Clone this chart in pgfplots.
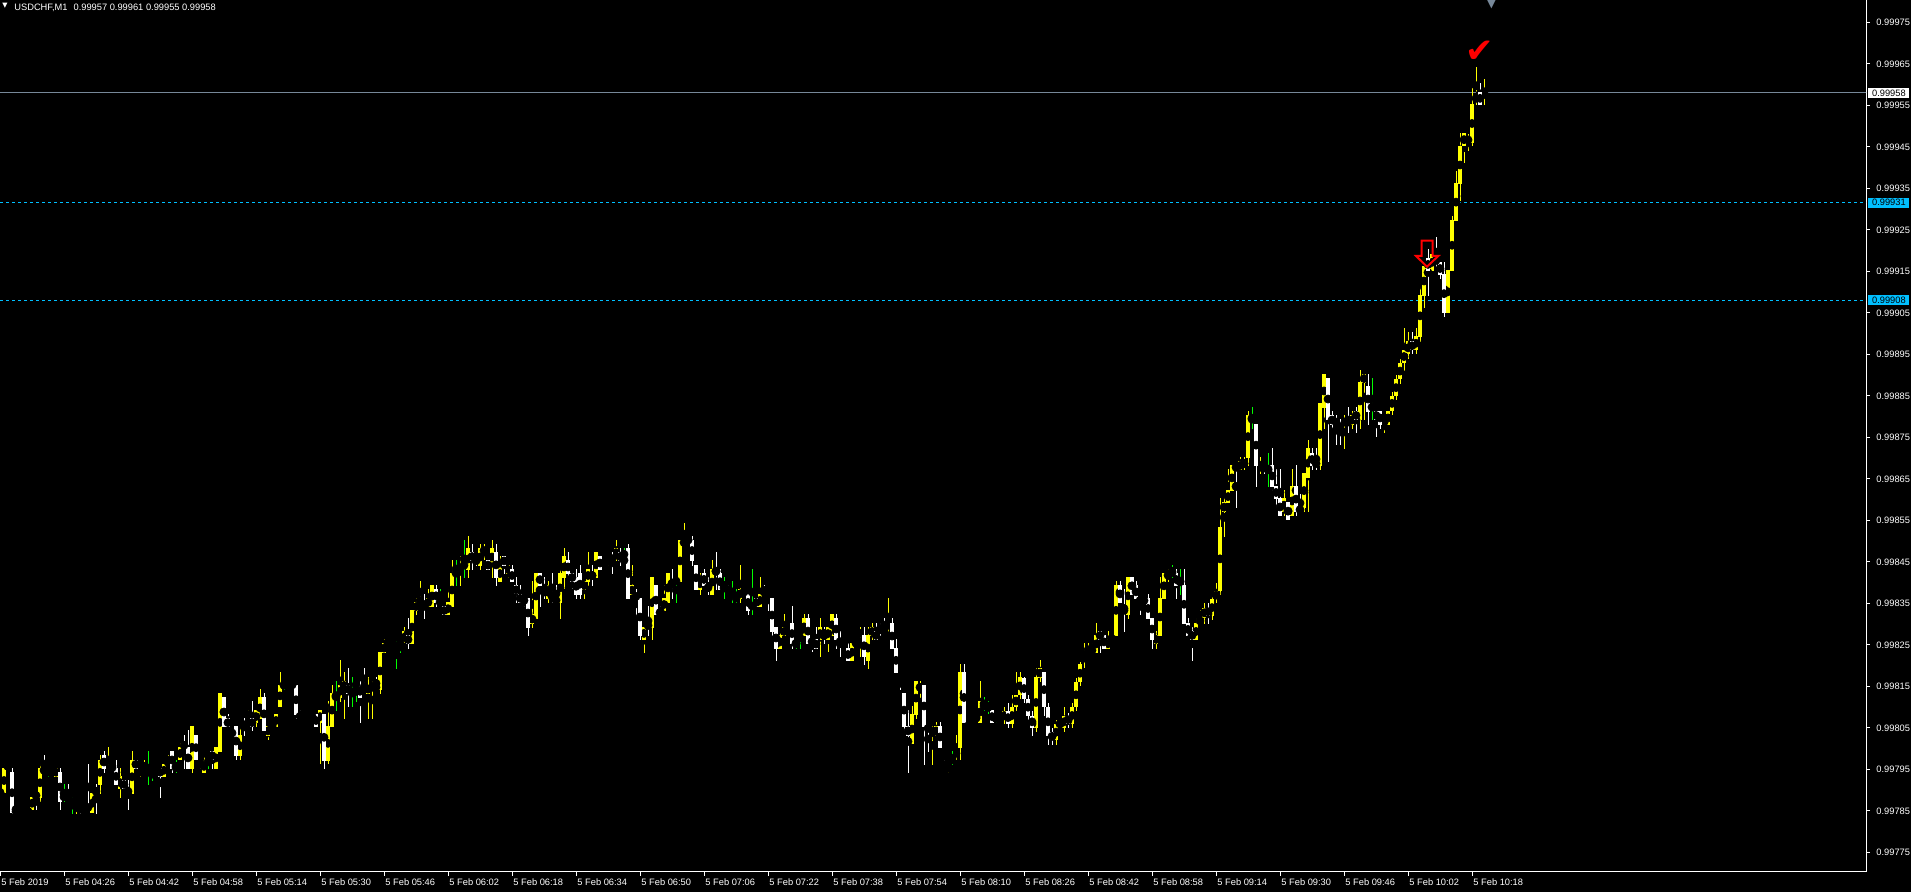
\documentclass[border=0pt]{standalone}
\usepackage{pgfplots}
\pgfplotsset{compat=1.18}
\usepackage{pgfplotstable}
\usepackage{fontspec}
\setmainfont{Liberation Sans}
\newfontfamily\dejavu{DejaVu Sans}
\definecolor{mtyellow}{RGB}{255,255,0}
\definecolor{mtgreen}{RGB}{0,255,0}
\definecolor{mtblue}{RGB}{0,191,255}
\definecolor{mtgray}{RGB}{119,136,153}
% prices in units of 0.00001 above 0.99 (e.g. 958 = 0.99958); i = minutes after 04:10
\pgfplotstableread{
i o h l c
0 789.3 790.0 789.0 789.3
1 789.3 796.3 789.3 795.4
2 796.3 796.3 795.2 795.2
3 794.4 795.4 784.4 784.4
4 785.4 785.4 784.4 785.4
5 784.4 786.4 784.4 785.4
6 785.4 785.4 785.4 785.4
7 784.4 785.4 784.4 785.4
8 785.3 788.4 785.3 788.4
9 789.3 789.3 785.3 788.2
10 788.2 796.3 787.2 795.4
11 795.4 798.4 794.2 794.2
12 795.4 795.4 793.3 795.4
13 794.4 795.4 794.2 794.4
14 793.3 795.4 793.3 795.4
15 794.4 795.4 785.3 787.2
16 788.4 791.4 787.2 788.4
17 788.4 791.4 787.2 787.2
18 787.3 788.4 784.4 787.3
19 786.3 787.3 784.4 787.3
20 786.4 786.4 784.4 785.3
21 785.4 785.4 785.4 785.4
22 786.4 796.3 785.3 785.3
23 784.4 789.3 784.4 789.3
24 790.3 791.4 784.4 789.2
25 791.3 798.4 789.2 797.3
26 798.4 799.4 794.2 795.2
27 794.2 800.4 794.2 795.4
28 795.4 796.3 795.4 795.4
29 795.4 797.3 791.3 791.3
30 790.3 795.4 788.2 793.4
31 792.5 792.5 789.2 790.3
32 790.3 792.5 785.3 789.2
33 789.2 799.4 789.2 797.3
34 797.3 797.3 795.2 795.2
35 794.2 795.4 793.3 795.4
36 794.2 797.3 794.2 795.4
37 794.4 799.4 791.3 794.4
38 795.4 795.4 792.3 795.4
39 796.3 796.3 795.2 795.2
40 795.4 795.4 788.2 793.3
41 793.3 797.3 793.3 796.3
42 796.2 798.4 796.2 797.3
43 799.4 799.4 794.2 795.2
44 795.4 797.3 794.2 795.4
45 797.3 801.4 797.3 800.4
46 801.4 803.3 795.2 800.3
47 800.4 804.5 795.2 795.2
48 795.2 805.5 794.2 805.5
49 803.3 803.3 797.2 797.2
50 796.2 797.3 795.2 797.3
51 794.2 798.4 794.2 797.3
52 798.4 798.4 795.2 798.4
53 799.5 799.5 795.2 797.2
54 795.2 800.4 795.2 800.4
55 799.3 813.4 799.3 813.4
56 812.5 812.5 805.2 805.2
57 807.4 808.4 805.2 805.2
58 804.5 804.5 801.2 803.1
59 805.5 805.5 797.3 798.2
60 798.2 805.5 797.3 803.3
61 806.4 807.4 803.1 805.2
62 807.2 809.3 807.2 808.4
63 807.4 811.5 804.3 805.2
64 806.2 809.3 805.2 809.3
65 807.2 814.4 807.2 812.5
66 812.5 813.4 804.3 804.3
67 803.1 805.5 802.1 805.5
68 805.5 805.5 805.5 805.5
69 805.2 808.4 805.2 808.4
70 810.1 818.5 810.1 815.4
71 815.4 816.4 814.2 815.4
72 815.4 816.4 815.4 815.4
73 815.4 815.4 815.4 815.4
74 815.4 815.4 807.2 808.2
75 808.4 809.3 807.2 807.2
76 807.4 807.4 806.2 806.2
77 807.2 808.4 807.2 808.4
78 808.4 808.4 807.2 807.2
79 808.4 808.4 805.2 805.2
80 806.2 809.3 796.2 809.3
81 808.4 808.4 795.2 797.1
82 797.1 811.5 796.2 805.5
83 805.2 815.4 805.2 813.4
84 812.5 816.4 809.2 812.5
85 812.3 821.4 811.3 815.4
86 814.2 818.5 807.2 816.3
87 815.4 819.5 810.1 813.3
88 813.4 817.3 810.1 813.4
89 815.4 816.3 811.3 815.4
90 815.4 816.3 806.3 812.3
91 815.4 819.5 814.2 814.2
92 813.3 817.3 807.2 815.4
93 814.2 816.3 807.2 815.4
94 815.4 817.3 814.2 814.2
95 814.2 823.3 813.3 823.3
96 823.1 826.5 823.1 825.4
97 825.4 826.2 825.4 825.4
98 825.4 825.4 825.4 825.4
99 824.3 826.0 819.3 824.3
100 825.4 826.0 823.0 825.4
101 825.4 829.4 825.4 828.3
102 827.4 831.5 824.1 825.2
103 825.2 833.4 825.2 833.4
104 833.2 836.3 832.2 835.3
105 835.1 840.4 835.1 836.3
106 835.3 837.3 831.3 834.2
107 834.2 838.5 834.2 836.3
108 834.2 839.4 834.2 839.4
109 838.5 839.4 834.2 835.2
110 835.3 838.5 835.3 835.3
111 834.4 834.4 832.2 832.2
112 832.2 838.5 832.2 835.3
113 834.2 845.4 834.2 842.3
114 843.3 845.4 839.2 843.3
115 842.2 846.4 839.2 843.3
116 844.2 850.3 841.2 844.2
117 843.1 851.2 841.2 848.3
118 847.4 849.3 843.1 845.2
119 846.4 846.4 844.1 845.2
120 844.1 849.3 843.1 848.3
121 847.2 849.3 845.4 848.3
122 845.4 845.4 843.1 843.1
123 844.1 850.3 841.2 848.3
124 847.4 849.3 839.3 841.2
125 840.2 846.4 840.2 844.2
126 846.4 846.4 842.2 844.1
127 842.2 844.2 841.2 844.2
128 843.3 844.2 840.2 840.2
129 839.4 841.3 835.2 837.2
130 837.3 839.4 835.2 835.2
131 836.3 836.3 834.2 835.2
132 836.3 836.3 827.2 829.1
133 830.1 840.4 829.1 832.4
134 831.3 842.3 831.3 842.3
135 842.3 842.3 834.2 839.2
136 838.5 841.3 836.1 837.0
137 836.1 840.4 835.2 839.4
138 837.3 842.3 835.2 836.1
139 836.3 839.4 835.2 835.2
140 835.2 843.3 831.3 842.3
141 841.2 848.3 838.5 846.4
142 845.4 847.4 841.2 842.2
143 842.3 842.3 838.5 840.2
144 841.3 843.3 836.1 837.0
145 842.3 844.2 836.1 837.0
146 838.2 840.4 836.1 840.4
147 840.2 847.4 839.3 843.3
148 842.3 844.2 839.3 841.2
149 841.2 847.4 841.2 847.4
150 846.4 846.4 843.1 843.1
151 842.2 843.3 842.2 843.3
152 842.2 844.2 842.2 843.3
153 846.4 847.4 842.2 845.2
154 846.2 850.3 845.2 848.3
155 847.4 848.3 844.1 845.2
156 845.4 848.3 845.4 845.4
157 848.3 849.3 836.1 836.1
158 837.0 844.2 837.0 839.4
159 837.3 838.5 831.3 836.1
160 836.3 836.3 826.2 827.2
161 826.3 829.3 823.0 829.3
162 830.3 834.4 827.2 829.1
163 829.1 841.3 826.2 841.3
164 839.4 839.4 832.2 832.2
165 833.4 834.4 832.2 832.2
166 833.2 839.4 833.2 836.3
167 835.2 842.3 835.2 842.3
168 840.4 843.3 836.1 839.3
169 840.4 841.3 835.2 840.4
170 840.2 850.3 840.2 850.3
171 849.1 854.3 849.1 850.3
172 850.3 851.3 849.3 850.3
173 850.3 851.2 844.1 845.2
174 844.2 844.2 838.2 838.2
175 838.2 842.3 837.0 841.3
176 842.3 843.3 839.3 839.3
177 839.4 841.3 837.0 838.2
178 837.0 845.4 837.0 843.3
179 843.3 847.4 838.2 842.2
180 842.3 843.3 838.2 838.2
181 839.4 841.3 836.1 839.4
182 838.5 839.4 837.3 837.3
183 837.3 840.4 835.2 837.3
184 836.3 838.5 835.2 836.3
185 836.1 844.2 835.2 838.5
186 838.5 838.5 837.0 837.0
187 837.3 837.3 832.2 833.2
188 834.4 843.3 832.2 834.4
189 836.3 836.3 834.2 834.2
190 834.2 841.3 834.2 837.3
191 838.5 839.4 837.0 837.0
192 838.5 838.5 833.2 837.0
193 836.3 836.3 827.2 828.1
194 829.3 829.3 821.2 824.1
195 824.1 828.3 824.1 827.4
196 827.2 832.4 827.2 829.3
197 828.1 829.3 827.2 829.3
198 830.3 834.4 824.1 825.2
199 825.4 826.4 824.1 825.4
200 828.3 829.3 824.1 828.3
201 827.2 832.5 827.2 831.5
202 831.5 832.5 825.2 825.2
203 826.4 826.4 823.2 825.2
204 826.4 829.3 824.0 824.0
205 826.2 831.5 822.2 829.3
206 828.4 829.3 825.2 827.2
207 826.2 829.3 823.2 829.3
208 827.2 832.5 827.2 832.5
209 831.5 832.5 824.0 826.2
210 826.4 828.4 822.2 825.2
211 825.4 825.4 825.4 825.4
212 824.3 825.4 821.1 821.1
213 821.1 825.4 821.1 825.4
214 825.4 826.4 825.4 825.4
215 827.2 829.3 822.2 828.4
216 827.4 829.3 820.2 822.2
217 821.1 829.3 819.2 827.4
218 827.2 830.3 826.2 829.3
219 828.4 830.3 826.2 826.2
220 829.3 830.3 827.2 828.1
221 829.3 831.5 828.1 828.1
222 829.2 836.3 827.2 830.3
223 830.3 831.5 824.0 824.0
224 824.3 826.4 818.3 818.3
225 817.3 817.3 814.2 816.1
226 813.4 813.4 804.3 805.2
227 805.5 809.3 794.2 803.1
228 801.1 810.3 801.1 808.4
229 808.1 816.3 807.2 816.3
230 814.2 816.3 812.3 815.4
231 815.4 815.4 796.1 805.2
232 805.5 805.5 799.2 804.3
233 803.1 805.5 796.1 804.5
234 803.1 806.4 803.1 805.5
235 805.5 806.4 800.2 800.2
236 796.3 797.3 795.1 795.1
237 795.1 796.3 794.2 796.3
238 797.3 799.4 796.1 797.3
239 798.3 803.3 797.3 799.5
240 800.2 820.4 797.3 818.5
241 818.5 820.4 806.2 806.2
242 805.5 806.4 804.3 805.5
243 806.4 806.4 806.4 806.4
244 807.4 807.4 807.4 807.4
245 806.2 816.3 806.2 811.5
246 810.3 812.5 809.2 810.3
247 810.3 811.5 808.4 810.3
248 809.3 809.3 806.2 806.2
249 807.4 808.4 806.2 807.4
250 807.6 808.4 806.4 807.6
251 807.0 810.0 806.0 809.0
252 809.0 811.0 805.0 806.0
253 806.0 813.0 805.0 810.0
254 810.0 818.5 809.0 813.0
255 813.0 818.5 812.0 817.3
256 817.0 817.3 811.0 812.0
257 812.0 813.0 806.0 808.0
258 808.0 809.0 803.0 805.0
259 805.0 819.5 804.0 817.3
260 817.0 821.4 816.0 819.5
261 818.5 818.5 808.0 810.0
262 810.0 811.0 801.0 803.0
263 804.0 805.0 801.0 802.0
264 802.0 807.0 801.0 806.0
265 806.0 806.5 805.5 806.0
266 805.0 810.0 804.0 808.0
267 808.0 808.5 805.0 806.0
268 806.0 811.0 805.0 810.0
269 810.0 817.0 809.0 816.0
270 816.0 821.0 815.0 820.4
271 821.2 825.5 819.5 822.4
272 822.1 825.5 822.1 823.3
273 823.1 825.5 823.1 824.3
274 823.1 830.3 823.1 827.4
275 828.4 828.4 823.1 826.2
276 827.4 827.4 824.1 824.1
277 824.1 828.4 824.1 826.5
278 826.5 826.5 825.3 826.5
279 827.2 840.4 827.2 839.5
280 839.5 840.4 835.1 835.1
281 834.4 838.5 828.2 833.2
282 832.3 841.4 831.3 841.4
283 841.4 841.4 837.1 837.1
284 839.5 840.4 836.1 836.1
285 836.3 836.3 832.3 835.1
286 836.3 836.3 835.1 835.1
287 836.3 837.3 831.3 831.3
288 831.5 831.5 824.1 826.2
289 825.3 828.4 824.1 827.4
290 827.2 841.4 827.2 836.3
291 836.1 842.4 836.1 842.4
292 841.2 843.3 840.2 842.4
293 842.4 844.3 841.2 842.4
294 842.4 843.3 836.1 839.2
295 840.4 843.3 837.1 840.4
296 839.5 843.3 830.1 830.1
297 830.3 831.5 827.2 827.2
298 828.4 829.4 821.2 826.2
299 826.2 831.5 826.2 830.3
300 830.1 833.4 830.1 831.5
301 831.5 835.0 830.0 834.0
302 834.0 835.0 830.0 832.0
303 832.0 837.0 831.0 836.0
304 836.0 840.0 835.0 838.0
305 838.0 860.4 837.0 853.5
306 857.0 860.4 851.1 859.4
307 859.2 867.4 859.2 862.3
308 862.1 868.4 862.1 868.4
309 868.4 868.4 858.0 867.2
310 867.2 870.3 867.2 869.3
311 868.1 870.3 867.2 869.3
312 870.0 881.4 868.1 880.4
313 879.4 882.3 877.0 879.4
314 878.2 878.2 863.1 868.1
315 867.2 870.3 866.2 868.4
316 869.3 869.3 866.2 868.1
317 867.4 871.3 863.1 867.4
318 868.4 872.4 862.1 863.1
319 863.3 867.4 858.0 860.2
320 860.4 867.4 856.1 856.1
321 857.0 862.3 856.1 860.4
322 859.4 859.4 855.1 855.1
323 856.1 867.4 856.1 863.3
324 863.3 868.4 856.1 857.0
325 858.2 861.4 857.0 857.0
326 858.0 866.4 857.0 866.4
327 865.2 874.4 857.0 872.4
328 871.3 872.4 867.2 868.1
329 869.3 872.4 867.2 868.1
330 868.1 883.3 867.2 883.3
331 882.1 890.3 877.0 890.3
332 889.3 889.3 869.1 879.2
333 880.4 881.4 877.0 878.0
334 879.4 880.4 873.2 878.0
335 878.2 879.4 873.2 877.0
336 878.0 880.4 872.2 879.4
337 879.4 882.3 876.1 878.0
338 878.0 881.4 877.0 880.4
339 881.4 882.3 876.1 879.2
340 879.2 891.3 877.0 888.4
341 888.1 890.3 879.2 890.3
342 887.4 890.3 878.0 881.1
343 882.3 889.3 879.2 882.3
344 881.4 881.4 875.1 879.2
345 881.4 881.4 877.0 878.0
346 878.0 879.4 876.1 879.4
347 878.0 881.4 878.0 881.4
348 881.4 886.0 880.5 885.0
349 885.0 890.0 884.0 889.0
350 889.0 894.0 888.0 893.0
351 893.0 901.3 891.0 896.0
352 895.0 900.5 894.0 898.2
353 898.2 900.5 895.0 896.0
354 896.0 901.3 895.0 899.4
355 899.3 911.3 898.1 909.3
356 909.1 916.3 906.3 916.3
357 918.2 920.4 909.1 915.2
358 915.2 919.5 915.0 919.2
359 918.2 923.3 916.0 917.1
360 917.3 917.3 913.2 914.1
361 914.4 917.3 904.1 904.9
362 904.9 915.3 904.9 915.3
363 915.2 928.4 915.2 927.4
364 927.1 939.2 927.1 936.3
365 936.1 948.4 932.0 945.2
366 945.1 948.4 941.2 948.4
367 946.0 948.0 944.1 947.4
368 946.0 959.2 945.1 955.3
369 956.1 964.3 955.2 957.3
370 958.2 960.4 955.2 955.2
371 957.1 961.4 955.2 958.2
}\candles
\pgfplotsset{
  wick/.style={only marks, mark=none, forget plot, error bars/.cd, y dir=both, y explicit, error mark=none, error bar style={draw=#1, line width=0.5pt, line cap=butt, solid}},
  body/.style={only marks, mark=none, forget plot, error bars/.cd, y dir=both, y explicit, error mark=none, error bar style={draw=#1, line width=1.7pt, line cap=butt, solid}},
}
\newcommand{\tl}{\fontsize{4.65}{5.5}\selectfont}
\begin{document}
\begin{tikzpicture}[x=0.5pt,y=0.5pt]
\fill[black] (0,0) rectangle (1911,892);
\path[use as bounding box] (0,0) rectangle (1911,892);
\begin{axis}[
  at={(0pt,10pt)}, anchor=south west,
  scale only axis, width=933pt, height=436pt,
  xmin=0, xmax=466.5, ymin=770.3, ymax=980.4,
  axis x line*=bottom, axis y line*=right,
  axis line style={draw=white, line width=0.5pt, -},
  tick align=outside, major tick length=2pt,
  tick style={draw=white, line width=0.5pt},
  xtick={0,16,...,368},
  xticklabels={5 Feb 2019,5 Feb 04:26,5 Feb 04:42,5 Feb 04:58,5 Feb 05:14,5 Feb 05:30,5 Feb 05:46,5 Feb 06:02,5 Feb 06:18,5 Feb 06:34,5 Feb 06:50,5 Feb 07:06,5 Feb 07:22,5 Feb 07:38,5 Feb 07:54,5 Feb 08:10,5 Feb 08:26,5 Feb 08:42,5 Feb 08:58,5 Feb 09:14,5 Feb 09:30,5 Feb 09:46,5 Feb 10:02,5 Feb 10:18},
  ytick={775,785,...,975},
  yticklabels={0.99775,0.99785,0.99795,0.99805,0.99815,0.99825,0.99835,0.99845,0.99855,0.99865,0.99875,0.99885,0.99895,0.99905,0.99915,0.99925,0.99935,0.99945,0.99955,0.99965,0.99975},
  xticklabel style={anchor=base west, inner sep=0pt, xshift=0.5pt, yshift=-5pt, text=white, font=\tl},
  yticklabel style={anchor=west, inner sep=0pt, xshift=3pt, text=white, font=\tl},
  clip mode=individual,
  unbounded coords=discard,
]
% reference lines
\addplot[mtgray, line width=0.5pt, forget plot] coordinates {(0,958) (467,958)};
\addplot[mtblue, line width=0.5pt, dash pattern=on 1.5pt off 1.5pt, forget plot] coordinates {(0,931.6) (467,931.6)};
\addplot[mtblue, line width=0.5pt, dash pattern=on 1.5pt off 1.5pt, forget plot] coordinates {(0,908) (467,908)};
% up candles
\addplot[restrict expr to domain={\thisrow{c}-\thisrow{o}}{0.05:1000}, wick=mtyellow] table[x=i, y expr={(\thisrow{h}+\thisrow{l})/2}, y error expr={(\thisrow{h}-\thisrow{l})/2}] {\candles};
\addplot[restrict expr to domain={\thisrow{c}-\thisrow{o}}{0.05:1000}, body=mtyellow] table[x=i, y expr={(\thisrow{o}+\thisrow{c})/2}, y error expr={max(abs(\thisrow{c}-\thisrow{o})/2,0.12)}] {\candles};
% down candles
\addplot[restrict expr to domain={\thisrow{c}-\thisrow{o}}{-1000:-0.05}, wick=white] table[x=i, y expr={(\thisrow{h}+\thisrow{l})/2}, y error expr={(\thisrow{h}-\thisrow{l})/2}] {\candles};
\addplot[restrict expr to domain={\thisrow{c}-\thisrow{o}}{-1000:-0.05}, body=white] table[x=i, y expr={(\thisrow{o}+\thisrow{c})/2}, y error expr={max(abs(\thisrow{c}-\thisrow{o})/2,0.12)}] {\candles};
% doji
\addplot[restrict expr to domain={\thisrow{c}-\thisrow{o}}{-0.04:0.04}, wick=mtgreen] table[x=i, y expr={(\thisrow{h}+\thisrow{l})/2}, y error expr={(\thisrow{h}-\thisrow{l})/2}] {\candles};
\addplot[restrict expr to domain={\thisrow{c}-\thisrow{o}}{-0.04:0.04}, body=mtgreen] table[x=i, y expr={(\thisrow{o}+\thisrow{c})/2}, y error expr={0.12}] {\candles};
% price labels on the scale
\node[fill=white, text=black, font=\tl, inner sep=0pt, minimum width=20.5pt, minimum height=5pt, anchor=west, xshift=1pt] at ({rel axis cs:1,0}|-{axis cs:0,958}) {0.99958};
\node[fill=mtblue, text=black, font=\tl, inner sep=0pt, minimum width=20.5pt, minimum height=5pt, anchor=west, xshift=1pt] at ({rel axis cs:1,0}|-{axis cs:0,931.6}) {0.99931};
\node[fill=mtblue, text=black, font=\tl, inner sep=0pt, minimum width=20.5pt, minimum height=5pt, anchor=west, xshift=1pt] at ({rel axis cs:1,0}|-{axis cs:0,908}) {0.99908};
\end{axis}
% header
\node[text=white, font=\dejavu\fontsize{3.4}{4}\selectfont, inner sep=0pt] at (5,886) {▼};
\node[text=white, font=\tl, inner sep=0pt, anchor=base west] at (14,881.4) {USDCHF,M1\hspace{3pt}0.99957 0.99961 0.99955 0.99958};
% chart objects: check sign, down arrow, off-screen marker
\node[text=red, font=\dejavu\fontsize{17}{18}\selectfont, inner sep=0pt] at (1480,840) {✔};
\draw[red, line width=1pt, line join=miter] (1421.7,651.3) -- (1432.7,651.3) -- (1432.7,636) -- (1438.3,636) -- (1427,625.3) -- (1416,636) -- (1421.7,636) -- cycle;
\node[text=mtgray, font=\dejavu\fontsize{6}{7}\selectfont, inner sep=0pt, anchor=north] at (1491.5,893) {▼};
\end{tikzpicture}
\end{document}
